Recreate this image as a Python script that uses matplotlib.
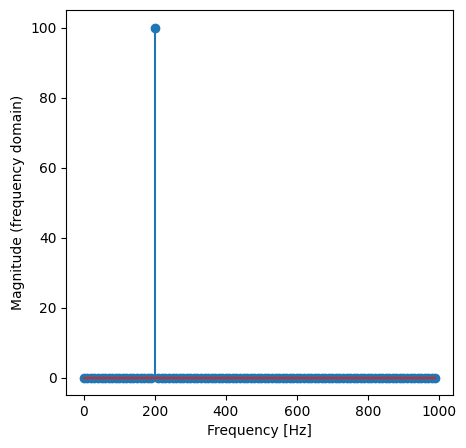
import matplotlib.pyplot as plt
import numpy as np

# Frequency bins (10 Hz resolution) and their magnitudes
freqs = np.arange(0, 1000, 10)
peak_freq = 200
peak_mag = 100
mags = np.zeros(len(freqs))
mags[freqs == peak_freq] = peak_mag

fig = plt.figure(figsize=(4.66, 4.48), dpi=100)
ax = fig.add_axes([0.142, 0.118, 0.830, 0.859])
ax.stem(freqs, mags, basefmt='C3-')
ax.set_xlabel("Frequency [Hz]")
ax.set_ylabel("Magnitude (frequency domain)")
ax.set_xticks([0, 200, 400, 600, 800, 1000])
ax.set_yticks([0, 20, 40, 60, 80, 100])
fig.savefig('out.png', dpi=100)
plt.close()
